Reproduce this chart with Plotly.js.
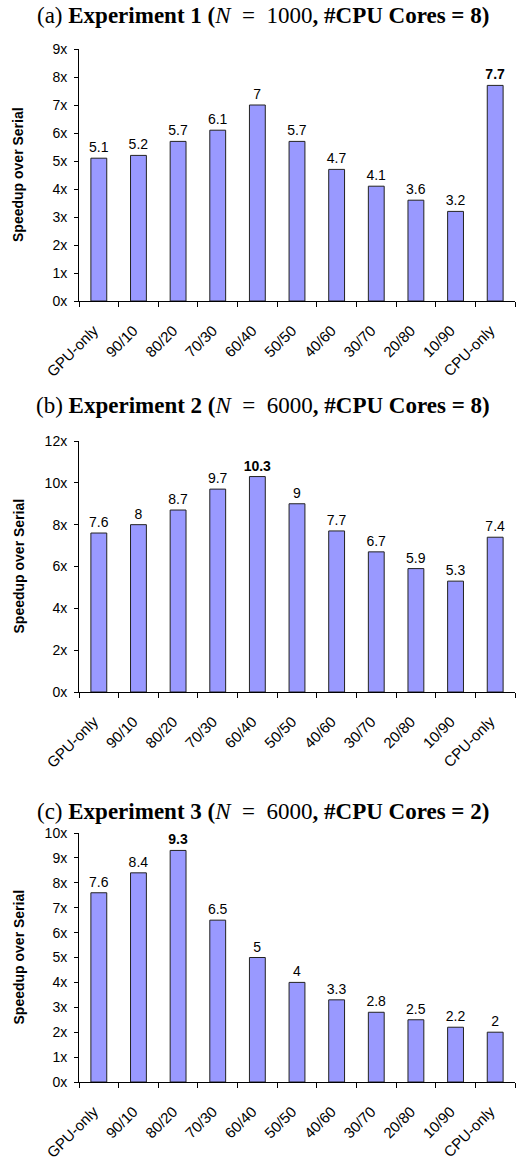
<!DOCTYPE html>
<html><head><meta charset="utf-8">
<script src="https://cdn.plot.ly/plotly-3.0.1.min.js"></script>
<style>html,body{margin:0;padding:0;background:#fff}#chart{width:526px;height:1159px}</style>
</head><body><div id="chart"></div>
<script>
var categories = ["GPU-only","90/10","80/20","70/30","60/40","50/50","40/60","30/70","20/80","10/90","CPU-only"];
var exp1 = [5.1,5.2,5.7,6.1,7,5.7,4.7,4.1,3.6,3.2,7.7];
var exp2 = [7.6,8,8.7,9.7,10.3,9,7.7,6.7,5.9,5.3,7.4];
var exp3 = [7.6,8.4,9.3,6.5,5,4,3.3,2.8,2.5,2.2,2];
var titles = [
  "(a) <b>Experiment 1 (</b><i>N</i>&nbsp; = &nbsp;1000<b>, #CPU Cores = 8)</b>",
  "(b) <b>Experiment 2 (</b><i>N</i>&nbsp; = &nbsp;6000<b>, #CPU Cores = 8)</b>",
  "(c) <b>Experiment 3 (</b><i>N</i>&nbsp; = &nbsp;6000<b>, #CPU Cores = 2)</b>"
];
var yTitle = "Speedup over Serial";
var yRanges = [[0,9],[0,12],[0,10]];
var yDtick = [1,2,1];

var W = 526, H = 1159;
var areas = [[49,301],[441,692],[833,1082]];
var titleY = [15,405,812];
var xL = 79, xR = 515;

function labels(vals){
  var m = Math.max.apply(null, vals);
  return vals.map(function(v){ return v===m ? "<b>"+v+"</b>" : String(v); });
}
var series = [exp1,exp2,exp3];
var data = [], layout = {
  width: W, height: H, margin:{l:0,r:0,t:0,b:0},
  paper_bgcolor:"#fff", plot_bgcolor:"#fff", showlegend:false,
  font:{family:"Liberation Sans, Arial, sans-serif", size:14, color:"#000"},
  annotations: []
};
series.forEach(function(vals, i){
  var sfx = i===0 ? "" : String(i+1);
  data.push({
    type:"bar", x:categories, y:vals, xaxis:"x"+sfx, yaxis:"y"+sfx,
    marker:{color:"#9999FF", line:{color:"#222", width:1}},
    width:0.4, text:labels(vals), textposition:"outside", cliponaxis:false,
    constraintext:"none",
    textfont:{family:"Liberation Sans, Arial, sans-serif", size:14, color:"#000"},
    hoverinfo:"none"
  });
  var a = areas[i];
  layout["xaxis"+sfx] = {
    domain:[xL/W, xR/W], anchor:"y"+sfx, type:"category",
    showline:true, linecolor:"#000", linewidth:1, showgrid:false,
    ticks:"outside", tickson:"boundaries", ticklen:5, tickcolor:"#000",
    tickangle:-45, tickfont:{size:15}, ticklabelstandoff:14, ticklabelshift:-5,
    fixedrange:true
  };
  layout["yaxis"+sfx] = {
    domain:[(H-a[1])/H, (H-a[0])/H], anchor:"x"+sfx,
    range:yRanges[i], dtick:yDtick[i], tick0:0, ticksuffix:"x",
    showline:true, linecolor:"#000", linewidth:1, showgrid:false, zeroline:false,
    ticks:"outside", ticklen:4, tickcolor:"#000", tickfont:{size:14},
    ticklabelstandoff:4, fixedrange:true
  };
  layout.annotations.push({
    text:titles[i], xref:"paper", yref:"paper", x:0.5, y:(H-titleY[i])/H,
    xanchor:"center", yanchor:"middle", showarrow:false,
    font:{family:"Liberation Serif, Times New Roman, serif", size:23, color:"#000"}
  });
  layout.annotations.push({
    text:"<b>"+yTitle+"</b>", xref:"paper", yref:"paper", x:18/W, y:(H-(a[0]+a[1])/2)/H,
    xanchor:"center", yanchor:"middle", textangle:-90, showarrow:false,
    font:{family:"Liberation Sans, Arial, sans-serif", size:14, color:"#000"}
  });
});
Plotly.newPlot("chart", data, layout, {staticPlot:true});
</script></body></html>
